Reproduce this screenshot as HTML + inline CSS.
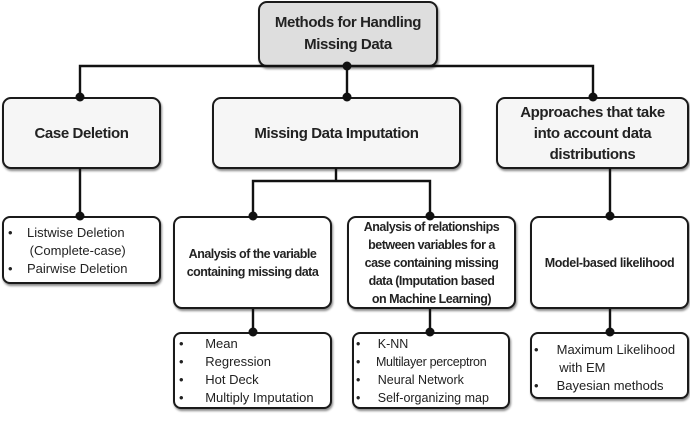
<!DOCTYPE html>
<html><head><style>
body{margin:0;width:690px;height:427px;background:#fff;position:relative;overflow:hidden;font-family:"Liberation Sans",sans-serif;}
.b{position:absolute;box-sizing:border-box;border:2px solid #1a1a1a;border-radius:9px;background:#f6f6f6;display:flex;align-items:center;justify-content:center;text-align:center;font-weight:bold;color:#222;box-shadow:1px 2px 2px #888;letter-spacing:-0.4px;}
.l{position:absolute;box-sizing:border-box;border:2px solid #1a1a1a;border-radius:8px;background:#fff;color:#222;font-size:13px;line-height:18px;box-shadow:1px 2px 2px #888;}
.l ul{margin:0;padding:0;list-style:none;}
svg{position:absolute;left:0;top:0;z-index:5;}
</style></head><body>
<svg width="690" height="427">
<g stroke="#111" stroke-width="2.4" fill="none">
<path d="M347 66 V97 M80 97 V66 H593 V97 M80 168 V216 M336 168 V181 M253 216 V181 H430 V216 M610 168 V216 M253 309 V332 M430 309 V332 M610 309 V332"/>
</g>
<g fill="#111">
<circle cx="347" cy="66" r="4.5"/><circle cx="80" cy="97" r="4.5"/><circle cx="347" cy="97" r="4.5"/><circle cx="593" cy="97" r="4.5"/>
<circle cx="80" cy="216" r="4.5"/><circle cx="253" cy="216" r="4.5"/><circle cx="430" cy="216" r="4.5"/><circle cx="610" cy="216" r="4.5"/>
<circle cx="253" cy="332" r="4.5"/><circle cx="430" cy="332" r="4.5"/><circle cx="610" cy="332" r="4.5"/>
</g>
</svg>
<div class="b" style="left:258px;top:1px;width:180px;height:66px;background:#dedede;font-size:15px;line-height:22px;">Methods for Handling<br>Missing Data</div>
<div class="b" style="left:2px;top:97px;width:159px;height:72px;font-size:15px;">Case Deletion</div>
<div class="b" style="left:212px;top:97px;width:249px;height:72px;font-size:15px;">Missing Data Imputation</div>
<div class="b" style="left:496px;top:97px;width:193px;height:72px;font-size:15px;line-height:21px;">Approaches that take<br>into account data<br>distributions</div>
<div class="l" style="left:2px;top:216px;width:159px;height:68px;padding-top:6px;padding-left:4px;"><ul><li>•&nbsp;&nbsp;&nbsp;&nbsp;Listwise Deletion<br>&nbsp;&nbsp;&nbsp;&nbsp;&nbsp;&nbsp;(Complete-case)</li><li>•&nbsp;&nbsp;&nbsp;&nbsp;Pairwise Deletion</li></ul></div>
<div class="b" style="left:173px;top:216px;width:159px;height:93px;font-size:12.5px;line-height:18px;background:#fff;letter-spacing:-0.5px;">Analysis of the variable<br>containing missing data</div>
<div class="b" style="left:347px;top:216px;width:169px;height:93px;font-size:12.5px;line-height:18px;background:#fff;letter-spacing:-0.5px;">Analysis of relationships<br>between variables for a<br>case containing missing<br>data (Imputation based<br>on Machine Learning)</div>
<div class="b" style="left:530px;top:216px;width:159px;height:93px;font-size:12.5px;background:#fff;">Model-based likelihood</div>
<div class="l" style="left:173px;top:332px;width:159px;height:77px;padding-top:1px;padding-left:4px;"><ul><li>•&nbsp;&nbsp;&nbsp;&nbsp;&nbsp;&nbsp;Mean</li><li>•&nbsp;&nbsp;&nbsp;&nbsp;&nbsp;&nbsp;Regression</li><li>•&nbsp;&nbsp;&nbsp;&nbsp;&nbsp;&nbsp;Hot Deck</li><li>•&nbsp;&nbsp;&nbsp;&nbsp;&nbsp;&nbsp;Multiply Imputation</li></ul></div>
<div class="l" style="left:352px;top:332px;width:158px;height:77px;padding-top:1px;padding-left:2px;font-size:12.5px;"><ul><li>•&nbsp;&nbsp;&nbsp;&nbsp;&nbsp;K-NN</li><li style="letter-spacing:-0.3px">•&nbsp;&nbsp;&nbsp;&nbsp;&nbsp;Multilayer perceptron</li><li>•&nbsp;&nbsp;&nbsp;&nbsp;&nbsp;Neural Network</li><li>•&nbsp;&nbsp;&nbsp;&nbsp;&nbsp;Self-organizing map</li></ul></div>
<div class="l" style="left:530px;top:332px;width:159px;height:67px;padding-top:7px;padding-left:2px;"><ul><li>•&nbsp;&nbsp;&nbsp;&nbsp;&nbsp;Maximum Likelihood<br>&nbsp;&nbsp;&nbsp;&nbsp;&nbsp;&nbsp;&nbsp;with EM</li><li>•&nbsp;&nbsp;&nbsp;&nbsp;&nbsp;Bayesian methods</li></ul></div>
</body></html>
